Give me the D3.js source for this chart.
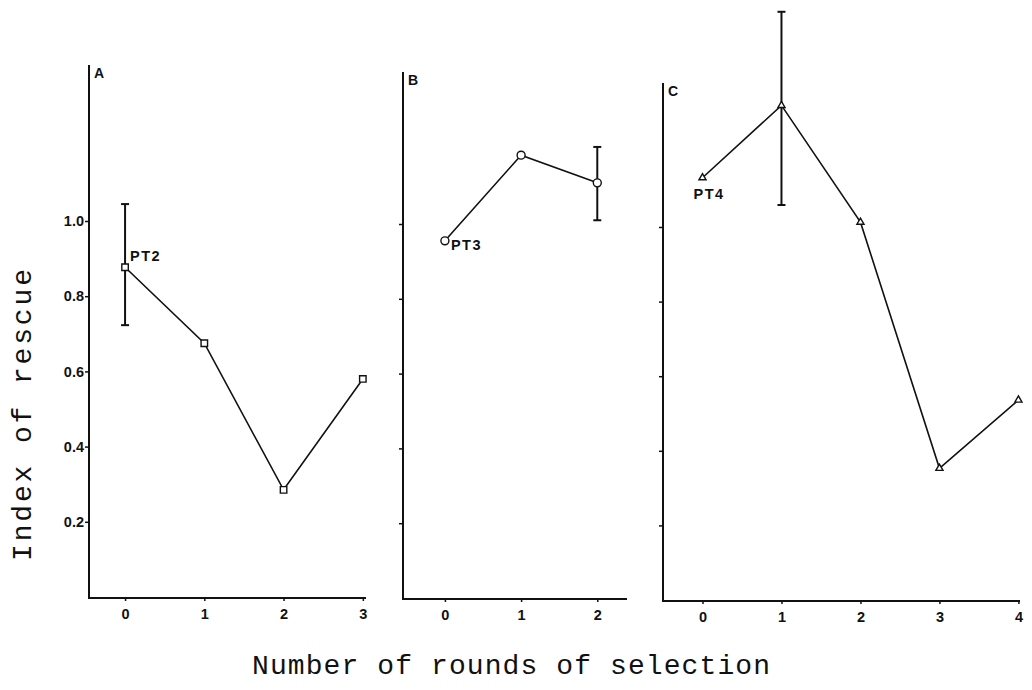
<!DOCTYPE html>
<html>
<head>
<meta charset="utf-8">
<script src="https://cdn.jsdelivr.net/npm/d3@7"></script>
<style>
  html, body { margin: 0; padding: 0; background: #fff; }
  svg { display: block; }
</style>
</head>
<body>
<svg id="chart" width="1032" height="690"></svg>
<script>
// ---- data ----
const roundsA = [0, 1, 2, 3];
const valuesA = [0.877, 0.675, 0.285, 0.58];
const errorA = { index: 0, low: 0.723, high: 1.045 };

const roundsB = [0, 1, 2];
const valuesB = [0.955, 1.184, 1.11];
const errorB = { index: 2, low: 1.01, high: 1.206 };

const roundsC = [0, 1, 2, 3, 4];
const valuesC = [1.132, 1.326, 1.013, 0.353, 0.536];
const errorC = { index: 1, low: 1.059, high: 1.577 };

const yTicks = [0.2, 0.4, 0.6, 0.8, 1.0];
const panelLetters = ["A", "B", "C"];
const strainLabels = ["PT2", "PT3", "PT4"];
const yTitle = "Index of rescue";
const xTitle = "Number of rounds of selection";

// ---- layout ----
const svg = d3.select("#chart");
const ink = "#111";
const tickFont = "'Liberation Sans', Arial, sans-serif";
const titleFont = "'Liberation Mono', 'Courier New', monospace";

const panels = [
  { letter: panelLetters[0], label: strainLabels[0], rounds: roundsA, values: valuesA, err: errorA,
    xDomain: [-0.455, 3.04], xRange: [89, 366], yZero: 597, yOne: 221, axisTop: 65,
    marker: "square", showLabels: true, labelDx: 5, labelDy: -6 },
  { letter: panelLetters[1], label: strainLabels[1], rounds: roundsB, values: valuesB, err: errorB,
    xDomain: [-0.55, 2.39], xRange: [403, 627], yZero: 598, yOne: 224, axisTop: 72,
    marker: "circle", showLabels: false, labelDx: 6, labelDy: 9 },
  { letter: panelLetters[2], label: strainLabels[2], rounds: roundsC, values: valuesC, err: errorC,
    xDomain: [-0.5, 4.02], xRange: [663, 1020], yZero: 600, yOne: 227, axisTop: 83,
    marker: "triangle", showLabels: false, labelDx: -9, labelDy: 21 }
];

panels.forEach(p => {
  const g = svg.append("g");
  const x = d3.scaleLinear().domain(p.xDomain).range(p.xRange);
  const y = d3.scaleLinear().domain([0, 1]).range([p.yZero, p.yOne]);
  const axisBottomY = p.yZero + 1;

  // vertical axis line
  g.append("line")
    .attr("x1", p.xRange[0]).attr("x2", p.xRange[0])
    .attr("y1", p.axisTop).attr("y2", axisBottomY)
    .attr("stroke", ink).attr("stroke-width", 2);

  // horizontal axis line
  g.append("line")
    .attr("x1", p.xRange[0] - 1).attr("x2", p.xRange[1])
    .attr("y1", axisBottomY).attr("y2", axisBottomY)
    .attr("stroke", ink).attr("stroke-width", 2);

  // y ticks
  const yAxis = d3.axisLeft(y)
    .tickValues(yTicks)
    .tickSize(4)
    .tickPadding(1)
    .tickFormat(p.showLabels ? d3.format(".1f") : () => "");
  const ya = g.append("g")
    .attr("transform", `translate(${p.xRange[0]},0)`)
    .call(yAxis);
  ya.select(".domain").remove();
  ya.selectAll(".tick line").attr("stroke", ink).attr("stroke-width", 1.5);
  ya.selectAll(".tick text")
    .attr("fill", ink)
    .attr("font-family", tickFont)
    .attr("font-weight", "bold")
    .attr("font-size", 14.5);

  // x ticks
  const xAxis = d3.axisBottom(x)
    .tickValues(p.rounds)
    .tickSize(3)
    .tickPadding(8)
    .tickFormat(d3.format("d"));
  const xa = g.append("g")
    .attr("transform", `translate(0,${axisBottomY})`)
    .call(xAxis);
  xa.select(".domain").remove();
  xa.selectAll(".tick line").attr("stroke", ink).attr("stroke-width", 1.5);
  xa.selectAll(".tick text")
    .attr("fill", ink)
    .attr("font-family", tickFont)
    .attr("font-weight", "bold")
    .attr("font-size", 14.5);

  // panel letter
  g.append("text")
    .attr("x", p.xRange[0] + 5)
    .attr("y", p.axisTop + 13)
    .attr("font-family", tickFont)
    .attr("font-weight", "bold")
    .attr("font-size", 14)
    .attr("fill", ink)
    .text(p.letter);

  // error bar
  const ex = x(p.rounds[p.err.index]);
  const eb = g.append("g").attr("stroke", ink).attr("stroke-width", 2);
  eb.append("line").attr("x1", ex).attr("x2", ex).attr("y1", y(p.err.low)).attr("y2", y(p.err.high));
  eb.append("line").attr("x1", ex - 4).attr("x2", ex + 4).attr("y1", y(p.err.low)).attr("y2", y(p.err.low));
  eb.append("line").attr("x1", ex - 4).attr("x2", ex + 4).attr("y1", y(p.err.high)).attr("y2", y(p.err.high));

  // connecting line
  const pts = p.rounds.map((r, i) => [x(r), y(p.values[i])]);
  g.append("path")
    .attr("d", d3.line()(pts))
    .attr("fill", "none")
    .attr("stroke", ink)
    .attr("stroke-width", 1.6);

  // markers
  const symType = p.marker === "square" ? d3.symbolSquare
                : p.marker === "circle" ? d3.symbolCircle
                : d3.symbolTriangle;
  const symSize = p.marker === "square" ? 42 : p.marker === "circle" ? 50 : 22;
  g.selectAll("path.mark")
    .data(pts)
    .join("path")
    .attr("class", "mark")
    .attr("transform", d => `translate(${d[0]},${d[1]})`)
    .attr("d", d3.symbol().type(symType).size(symSize))
    .attr("fill", "#fff")
    .attr("stroke", ink)
    .attr("stroke-width", 1.4);

  // strain label next to the first point
  g.append("text")
    .attr("x", pts[0][0] + p.labelDx)
    .attr("y", pts[0][1] + p.labelDy)
    .attr("font-family", tickFont)
    .attr("font-weight", "bold")
    .attr("font-size", 14.5)
    .attr("letter-spacing", 1.5)
    .attr("fill", ink)
    .text(p.label);
});

// axis titles
svg.append("text")
  .attr("transform", "translate(31,415) rotate(-90)")
  .attr("text-anchor", "middle")
  .attr("font-family", titleFont)
  .attr("font-size", 28)
  .attr("textLength", 292)
  .attr("lengthAdjust", "spacing")
  .attr("fill", ink)
  .text(yTitle);

svg.append("text")
  .attr("x", 511)
  .attr("y", 674)
  .attr("text-anchor", "middle")
  .attr("font-family", titleFont)
  .attr("font-size", 28)
  .attr("textLength", 518)
  .attr("lengthAdjust", "spacing")
  .attr("fill", ink)
  .text(xTitle);
</script>
</body>
</html>
